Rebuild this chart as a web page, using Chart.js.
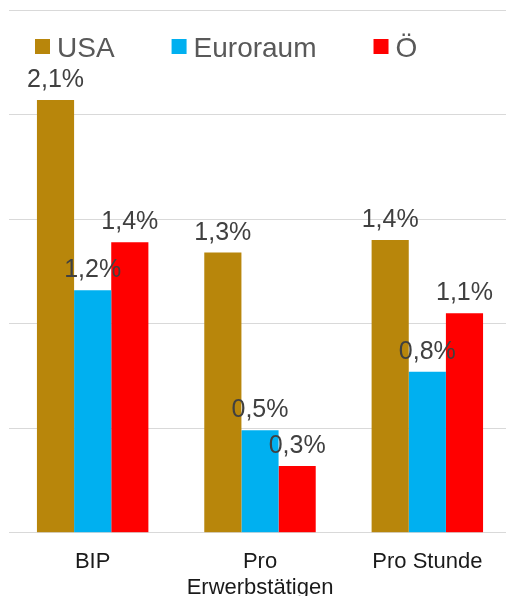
<!DOCTYPE html>
<html>
<head>
<meta charset="utf-8">
<script src="https://cdn.jsdelivr.net/npm/chart.js@4"></script>
<style>
  html, body { margin: 0; padding: 0; background: #fff; overflow: hidden; }
  /* the plot runs a little past the right and bottom edge of the picture */
  #wrap { width: 512px; height: 609px; }
</style>
</head>
<body>
<div id="wrap"><canvas id="chart-growth"></canvas></div>
<script>
// Wachstum, Durchschnitt in %
const categories = ["BIP", ["Pro", "Erwerbstätigen"], "Pro Stunde"];
const usa = [2.07, 1.34, 1.40];
const euroraum = [1.16, 0.49, 0.77];
const oesterreich = [1.39, 0.32, 1.05];
const seriesNames = ["USA", "Euroraum", "Ö"];
const seriesColors = ["#B8860B", "#00B0F0", "#FF0000"];

const FONT = "'Liberation Sans', Arial, sans-serif";

// value labels above each bar
const barLabels = {
  id: "barLabels",
  afterDatasetsDraw(chart) {
    const ctx = chart.ctx;
    ctx.save();
    ctx.font = "25px " + FONT;
    ctx.fillStyle = "#404040";
    ctx.textAlign = "center";
    ctx.textBaseline = "alphabetic";
    chart.data.datasets.forEach((ds, i) => {
      chart.getDatasetMeta(i).data.forEach((bar, j) => {
        const txt = ds.data[j].toFixed(1).replace(".", ",") + "%";
        ctx.fillText(txt, bar.x, bar.y - 13);
      });
    });
    ctx.restore();
  },
};

// legend sits inside the plot area, over the top gridline band
const topLegend = {
  id: "topLegend",
  afterDraw(chart) {
    const ctx = chart.ctx;
    ctx.save();
    ctx.font = "28px " + FONT;
    ctx.textBaseline = "alphabetic";
    let x = 35;
    chart.data.datasets.forEach((ds) => {
      ctx.fillStyle = ds.backgroundColor;
      ctx.fillRect(x, 39, 15, 15);
      ctx.fillStyle = "#595959";
      ctx.fillText(ds.label, x + 22, 56.5);
      x += 22 + ctx.measureText(ds.label).width + 57;
    });
    ctx.restore();
  },
};

new Chart(document.getElementById("chart-growth"), {
  type: "bar",
  data: {
    labels: categories,
    datasets: [
      { label: seriesNames[0], data: usa, backgroundColor: seriesColors[0] },
      { label: seriesNames[1], data: euroraum, backgroundColor: seriesColors[1] },
      { label: seriesNames[2], data: oesterreich, backgroundColor: seriesColors[2] },
    ],
  },
  options: {
    responsive: true,
    maintainAspectRatio: false,
    animation: false,
    layout: { padding: { left: 9, top: 10, right: 1, bottom: 0 } },
    datasets: {
      bar: { barPercentage: 1, categoryPercentage: 0.666 },
    },
    plugins: {
      legend: { display: false },
      tooltip: { enabled: false },
    },
    scales: {
      x: {
        grid: { display: false },
        border: { color: "#d9d9d9" },
        ticks: {
          color: "#1a1a1a",
          font: { family: FONT, size: 22, lineHeight: 1.14 },
          padding: 9,
          maxRotation: 0,
          autoSkip: false,
        },
      },
      y: {
        min: 0,
        max: 2.5,
        ticks: { display: false, stepSize: 0.5 },
        border: { display: false },
        grid: { color: "#d9d9d9", drawTicks: false },
      },
    },
  },
  plugins: [barLabels, topLegend],
});
</script>
</body>
</html>
